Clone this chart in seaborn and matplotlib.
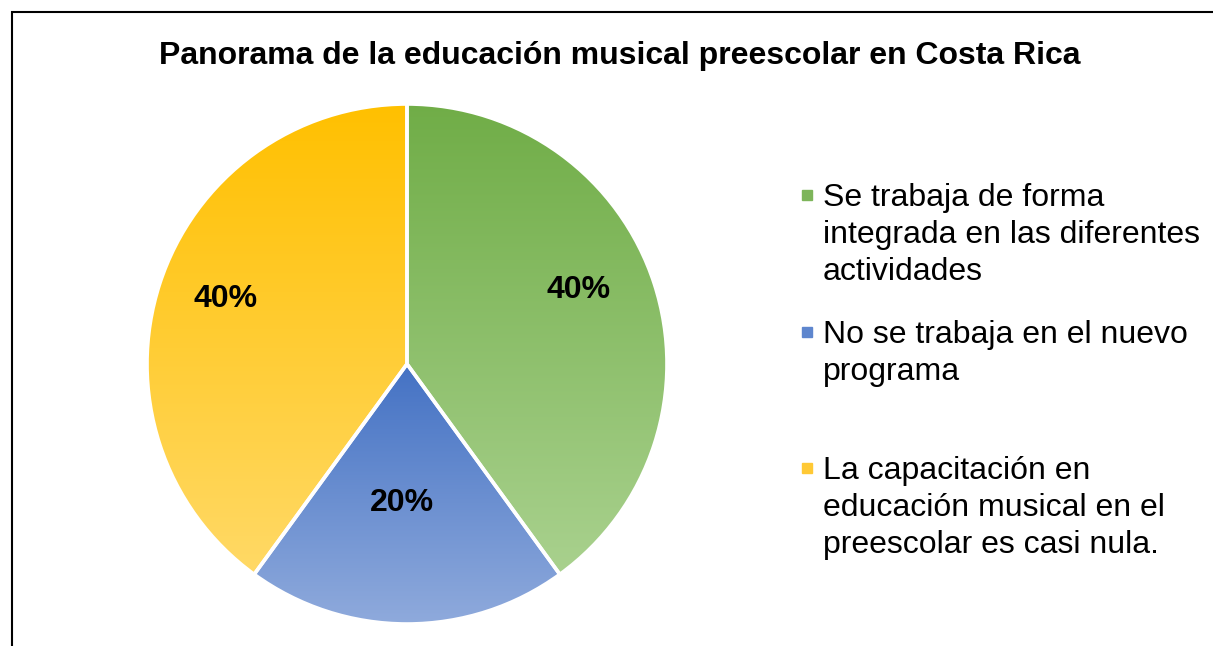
import matplotlib.pyplot as plt
import matplotlib.colors as mcolors
from matplotlib.patches import Rectangle
import numpy as np
import seaborn as sns

# chart data
title = "Panorama de la educación musical preescolar en Costa Rica"
categories = [
    "Se trabaja de forma\nintegrada en las diferentes\nactividades",
    "No se trabaja en el nuevo\nprograma",
    "La capacitación en\neducación musical en el\npreescolar es casi nula.",
]
values = [40, 20, 40]

# styling
top_colors = ["#70AD47", "#4472C4", "#FFC000"]
bottom_colors = ["#A9D18E", "#8FAADC", "#FFD966"]
legend_colors = ["#7DB55A", "#5E86CE", "#FFC935"]
label_radius = [0.725, 0.52, 0.744]    # where the percentages sit
label_turn = [6.3, -2.0, -2.6]         # degrees off the slice middle
legend_baselines = [206, 343, 479]     # pixel row of first line of each entry
line_step = 37                         # pixels between legend lines

W, H = 1213, 646
sns.set_theme(style="white")
plt.rcParams["font.family"] = ["Liberation Sans", "DejaVu Sans"]

fig = plt.figure(figsize=(W / 100, H / 100), dpi=100)
fig.patch.set_facecolor("white")

# pie box in pixels: center (407, 364), radius 260
cx, cy, r = 407, 364, 260
ax = fig.add_axes([(cx - r) / W, (H - cy - r) / H, 2 * r / W, 2 * r / H])

wedges, _ = ax.pie(values, startangle=90, counterclock=False, radius=1,
                   colors=top_colors,
                   wedgeprops=dict(edgecolor="white", linewidth=2.6))

# vertical gradient fill in every slice, like the office chart
for w, c0, c1 in zip(wedges, top_colors, bottom_colors):
    ext = w.get_path().get_extents()
    t = np.linspace(0, 1, 256)[:, None, None]
    rgb = (1 - t) * np.array(mcolors.to_rgb(c0)) + t * np.array(mcolors.to_rgb(c1))
    im = ax.imshow(rgb, extent=(ext.x0, ext.x1, ext.y0, ext.y1), origin="upper",
                   aspect="auto", interpolation="bilinear", zorder=0.5)
    im.set_clip_path(w)
    w.set_facecolor("none")
    w.set_clip_on(False)

# percentage labels
total = sum(values)
for w, v, rad, turn in zip(wedges, values, label_radius, label_turn):
    ang = np.deg2rad((w.theta1 + w.theta2) / 2 + turn)
    ax.text(rad * np.cos(ang), rad * np.sin(ang), f"{v / total * 100:.0f}%",
            ha="center", va="center_baseline", fontsize=23, fontweight="bold",
            color="black")

ax.set_xlim(-1, 1)
ax.set_ylim(-1, 1)
ax.set_aspect("equal")
ax.axis("off")

# title
fig.text(619.5 / W, 1 - 64 / H, title, ha="center", va="baseline",
         fontsize=23, fontweight="bold", color="black")

# legend drawn by hand (uneven spacing in the original)
for lab, col, base in zip(categories, legend_colors, legend_baselines):
    fig.patches.append(Rectangle((802 / W, 1 - (base - 6) / H), 10 / W, 10 / H,
                                 transform=fig.transFigure, color=col))
    lines = lab.split("\n")
    for i, line in enumerate(lines):
        fig.text(823 / W, 1 - (base + i * line_step) / H, line, ha="left",
                 va="baseline", fontsize=23, color="black")

# chart border (left and top visible)
fig.patches.append(Rectangle((12 / W, -0.5), 2, (H - 12) / H + 0.5,
                             transform=fig.transFigure, fill=False,
                             edgecolor="black", linewidth=1.5))

fig.savefig("out.png", dpi=100)
